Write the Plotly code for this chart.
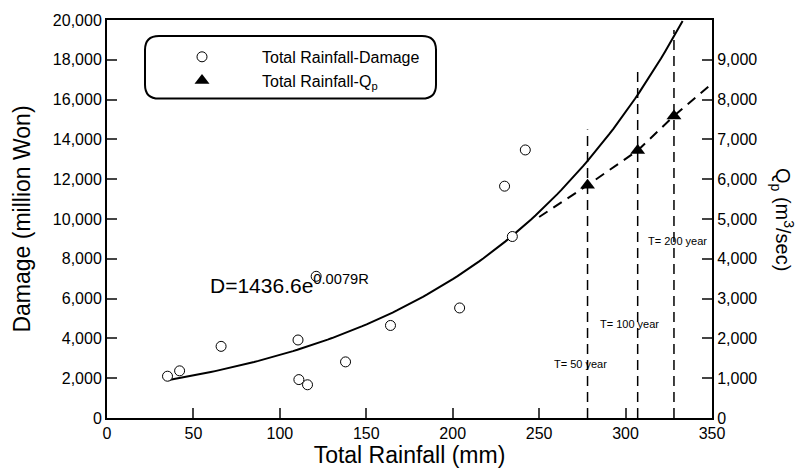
import numpy as np
import plotly.graph_objects as go

# Observed data
rain_dmg = [35, 42, 66, 110.5, 111, 116, 121, 138, 164, 204, 230, 234.5, 242]
damage = [2100, 2370, 3600, 3920, 1930, 1670, 7120, 2820, 4650, 5530, 11650, 9120, 13470]

rain_qp = [278, 307, 328]
qp = [5850, 6720, 7590]

# Dashed Qp trend
qp_trend_x = [250, 278, 307, 328, 350]
qp_trend_y = [5050, 5850, 6720, 7590, 8400]

# Fit D = 1436.6 e^(0.0079 R)
fit_a, fit_b = 1436.6, 0.0079
fit_x = np.linspace(35, 333, 120)
fit_y = fit_a * np.exp(fit_b * fit_x)

# Return-period guide lines
t_rain = [278, 307, 328]
t_top = [14500, 17500, 19500]
t_labels = ["T= 50 year", "T= 100 year", "T= 200 year"]
t_label_x = [274, 302, 330]
t_label_y = [2700, 4700, 8900]

x_ticks = [0, 50, 100, 150, 200, 250, 300, 350]
y_ticks = list(range(0, 20001, 2000))
y2_ticks = list(range(0, 9001, 1000))

FONT = "Liberation Sans, Arial, sans-serif"
NB = "\u00a0"
SUBP = "<sub><span style='color:black'>p</span></sub>"

fig = go.Figure()

fig.add_trace(go.Scatter(x=fit_x, y=fit_y, mode="lines",
                         line=dict(color="black", width=2), showlegend=False, hoverinfo="skip"))

for xr, top in zip(t_rain, t_top):
    fig.add_trace(go.Scatter(x=[xr, xr], y=[0, top], mode="lines",
                             line=dict(color="black", width=1.5, dash="10px,6px"),
                             showlegend=False, hoverinfo="skip"))

fig.add_trace(go.Scatter(x=qp_trend_x, y=qp_trend_y, mode="lines", yaxis="y2",
                         line=dict(color="black", width=2, dash="10px,7px"),
                         showlegend=False, hoverinfo="skip"))

fig.add_trace(go.Scatter(x=rain_dmg, y=damage, mode="markers",
                         name=NB * 9 + "Total Rainfall-Damage",
                         marker=dict(symbol="circle", size=10, color="white",
                                     line=dict(color="black", width=1))))

fig.add_trace(go.Scatter(x=rain_qp, y=qp, mode="markers", yaxis="y2",
                         name=NB * 9 + "Total Rainfall-Q" + SUBP,
                         marker=dict(symbol="triangle-up", size=13, color="black",
                                     line=dict(color="black", width=0))))

annotations = [
    dict(x=58.5, y=6750, xref="x", yref="y", text="D=1436.6e<sup>0.0079R</sup>",
         showarrow=False, xanchor="left", yanchor="middle",
         font=dict(size=21, color="black", family=FONT)),
    dict(x=(783 - 107) / 605, y=0.5, xref="paper", yref="paper", xanchor="center",
         yanchor="middle",
         text="Q" + SUBP + " (m<sup>3</sup>/sec)", textangle=90, showarrow=False,
         font=dict(size=20, color="black", family=FONT)),
]
for lx, ly, lt in zip(t_label_x, t_label_y, t_labels):
    annotations.append(dict(x=lx, y=ly, xref="x", yref="y", text=lt, showarrow=False,
                            font=dict(size=11, color="black", family=FONT)))

# Rounded legend box
x0, x1 = (145 - 107) / 605, (436 - 107) / 605
y0, y1 = 1 - (97 - 18) / 400, 1 - (34 - 18) / 400
rx, ry = 14 / 605, 14 / 400
path = (f"M {x0+rx},{y1} L {x1-rx},{y1} Q {x1},{y1} {x1},{y1-ry} "
        f"L {x1},{y0+ry} Q {x1},{y0} {x1-rx},{y0} L {x0+rx},{y0} "
        f"Q {x0},{y0} {x0},{y0+ry} L {x0},{y1-ry} Q {x0},{y1} {x0+rx},{y1} Z")

fig.update_layout(
    width=797, height=470,
    margin=dict(l=107, r=85, t=18, b=52),
    paper_bgcolor="white", plot_bgcolor="white",
    font=dict(family=FONT, size=16, color="black"),
    showlegend=True,
    legend=dict(x=(182 - 107) / 605, y=1 - (38 - 18) / 400, xanchor="left", yanchor="top",
                bgcolor="rgba(0,0,0,0)", borderwidth=0, tracegroupgap=0,
                font=dict(size=16, family=FONT, color="black"), itemwidth=30),
    shapes=[dict(type="path", path=path, xref="paper", yref="paper",
                 line=dict(color="black", width=2), layer="below")],
    annotations=annotations,
    xaxis=dict(range=[0, 350], tickvals=x_ticks, ticks="inside", ticklen=10, tickwidth=1.5,
               showline=True, linecolor="black", linewidth=2, mirror=True, showgrid=False,
               zeroline=False, tickfont=dict(size=16),
               title=dict(text="Total Rainfall (mm)", font=dict(size=23), standoff=0)),
    yaxis=dict(range=[0, 20000], tickvals=y_ticks, tickformat=",d", ticks="inside",
               ticklen=10, tickwidth=1.5, showline=True, linecolor="black", linewidth=2,
               mirror=True, showgrid=False, zeroline=False, tickfont=dict(size=16),
               title=dict(text="Damage (million Won)", font=dict(size=23), standoff=16)),
    yaxis2=dict(range=[0, 10000], tickvals=y2_ticks, tickformat=",d", overlaying="y",
                side="right", ticks="inside", ticklen=10, tickwidth=1.5, showline=True,
                linecolor="black", linewidth=2, showgrid=False, zeroline=False,
                tickfont=dict(size=16)),
)

fig.write_html("out.html")
